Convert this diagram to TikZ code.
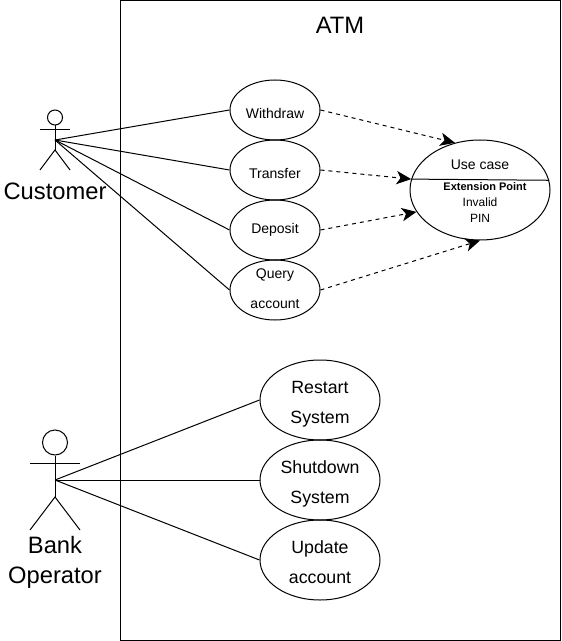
\documentclass[tikz,border=0pt]{standalone}
\usepackage{fontspec}
\setmainfont{Liberation Sans}
\usetikzlibrary{arrows.meta, shapes.geometric}

\tikzset{
	usecasesmall/.style={ellipse, draw, inner sep=0pt, minimum width=67.5pt, minimum height=45pt},
	usecasebig/.style={ellipse, draw, inner sep=0pt, minimum width=90pt, minimum height=60pt},
	smalltext/.style={align=center, inner sep=0pt, font=\fontsize{10.5pt}{22.5pt}\selectfont},
	bigtext/.style={align=center, inner sep=0pt, font=\fontsize{13.3pt}{22.5pt}\selectfont},
	actorlabel/.style={align=center, inner sep=0pt, font=\fontsize{17.8pt}{22.5pt}\selectfont},
	extendline/.style={->, dashed, >={Stealth[length=11pt, width=10pt, inset=3pt]}},
}

\begin{document}
\begin{tikzpicture}[x=0.75pt, y=-0.75pt, line width=0.75pt]
	\useasboundingbox (0,0) rectangle (561,641);
	\draw (120,0.5) rectangle (560,640);
	\node[actorlabel] (title) at (340,25) {ATM};

	\node[circle, draw, inner sep=0pt, minimum size=11.25pt] (customerhead) at (55,117.5) {};
	\coordinate (customer) at (55,140);
	\coordinate (customerhip) at (55,150);
	\draw (customerhead) -- (customerhip);
	\draw (40,130) -- (70,130);
	\draw (40,170) -- (customerhip) -- (70,170);
	\node[actorlabel] (customerlabel) at (55,191) {Customer};

	\node[circle, draw, inner sep=0pt, minimum size=18.75pt] (bankhead) at (55,442.5) {};
	\coordinate (bank) at (55,480);
	\coordinate (bankhip) at (55,497);
	\draw (bankhead) -- (bankhip);
	\draw (30,463) -- (80,463);
	\draw (30,530) -- (bankhip) -- (80,530);
	\node[actorlabel] (banklabel) at (55,562) {Bank\\Operator};

	\node[usecasesmall, label={[smalltext, yshift=-2.25pt]center:Withdraw}] (withdraw) at (275,110) {};
	\node[usecasesmall, label={[smalltext, yshift=-2.6pt]center:Transfer}] (transfer) at (275,170) {};
	\node[usecasesmall, label={[smalltext]center:Deposit}] (deposit) at (275,230) {};
	\node[usecasesmall, label={[smalltext, yshift=0.75pt]center:{Query\\account}}] (query) at (275,290) {};
	\node[usecasebig, label={[bigtext, yshift=-3pt]center:{Restart\\System}}] (restart) at (320,400) {};
	\node[usecasebig, label={[bigtext, yshift=-3pt]center:{Shutdown\\System}}] (shutdown) at (320,480) {};
	\node[usecasebig, label={[bigtext, yshift=-1.5pt]center:{Update\\account}}] (update) at (320,560) {};

	\node[ellipse, draw, inner sep=0pt, minimum width=105pt, minimum height=75pt] (usecase) at (480,190) {};
	\draw (usecase.171.7) -- (usecase.8.3);
	\node[font=\fontsize{10.5pt}{12pt}\selectfont] (usecasename) at (480,165) {Use case};
	\node[font=\fontsize{8.25pt}{10pt}\selectfont\bfseries] (extension) at (485,186.5) {Extension Point};
	\node[align=center, font=\fontsize{9pt}{11.6pt}\selectfont] (invalid) at (480,210) {Invalid\\PIN};

	\foreach \u in {withdraw, transfer, deposit, query} {\draw (customer) -- (\u.west);}
	\foreach \u in {restart, shutdown, update} {\draw (bank) -- (\u.west);}

	\draw[extendline] (withdraw.east) -- (usecase.118);
	\draw[extendline] (transfer.east) -- (usecase.171.7);
	\draw[extendline] (deposit.east) -- (usecase.199.5);
	\draw[extendline] (query.east) -- (usecase.south);
\end{tikzpicture}
\end{document}
